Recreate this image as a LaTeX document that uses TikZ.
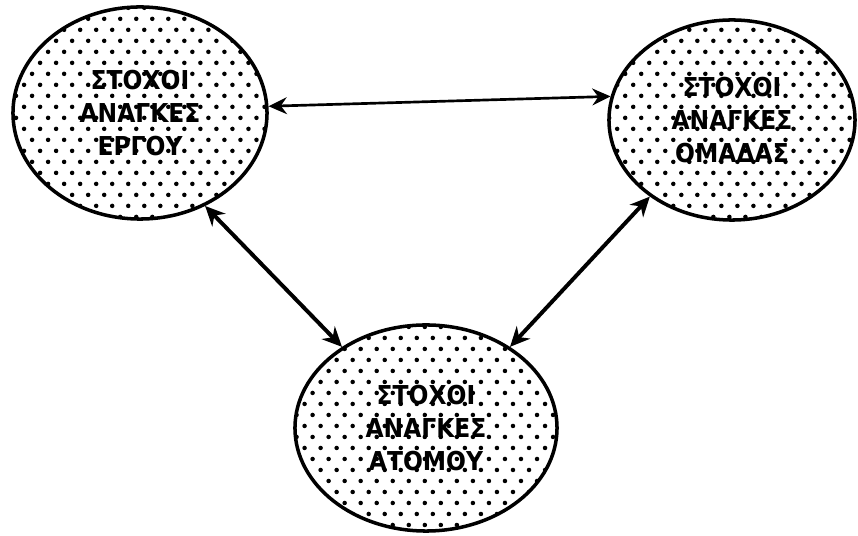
\documentclass[tikz,border=0pt]{standalone}
\usepackage{fontspec}
\setmainfont{DejaVu Sans}[BoldFeatures={FakeStretch=0.9}]
\usepackage{tikz}
\usetikzlibrary{shapes.geometric, arrows.meta, patterns}
\pgfdeclarepatternformonly{sparse dots}{\pgfqpoint{-2pt}{-2pt}}{\pgfqpoint{8pt}{10pt}}{\pgfqpoint{11.4pt}{15.65pt}}{
  \pgfpathcircle{\pgfqpoint{0pt}{0pt}}{1.6pt}
  \pgfpathcircle{\pgfqpoint{5.7pt}{7.82pt}}{1.6pt}
  \pgfusepath{fill}}
\tikzstyle{goal} = [ellipse, draw=black, line width=2.5pt, pattern=sparse dots, align=center, text centered, font=\bfseries\fontsize{18.5}{23.5}\selectfont]
\tikzstyle{arrow} = [line width=1.9pt, <->, >={Stealth[length=13pt, width=12pt]}]
\tikzstyle{thickarrow} = [line width=2.8pt, <->, >={Stealth[length=14pt, width=13pt]}]

\begin{document}
\begin{tikzpicture}[x=0.025cm, y=-0.025cm]
\useasboundingbox (0,0) rectangle (858,536);

\node (ergo) [goal, minimum width=6.35cm, minimum height=5.3cm] at (140,113) {ΣΤΟΧΟΙ\\ΑΝΑΓΚΕΣ\\ΕΡΓΟΥ};
\node (omada) [goal, minimum width=6.15cm, minimum height=5cm] at (732,120) {ΣΤΟΧΟΙ\\ΑΝΑΓΚΕΣ\\ΟΜΑΔΑΣ};
\node (atomo) [goal, minimum width=6.55cm, minimum height=5.15cm] at (426,428) {ΣΤΟΧΟΙ\\ΑΝΑΓΚΕΣ\\ΑΤΟΜΟΥ};

\draw [arrow] (ergo.3) -- (omada.169);
\draw [thickarrow] (ergo.-55) -- (atomo.136);
\draw [thickarrow] (atomo.44) -- (omada.-137);

\end{tikzpicture}
\end{document}
